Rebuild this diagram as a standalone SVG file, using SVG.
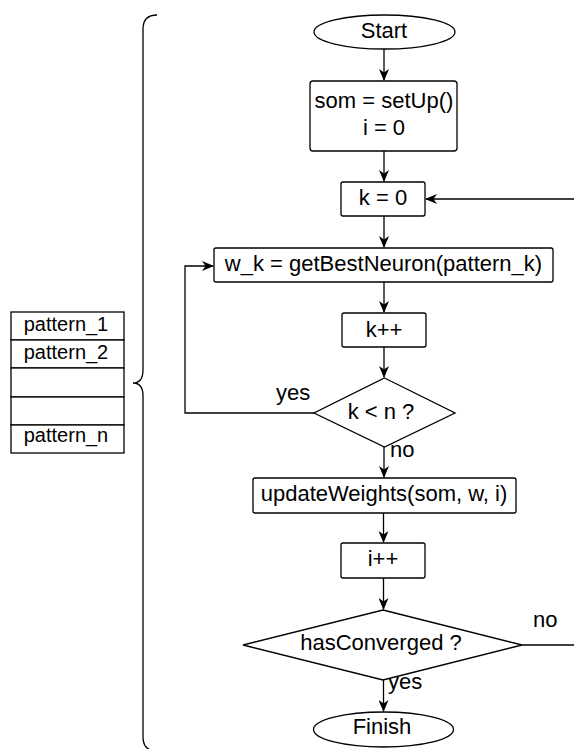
<svg xmlns="http://www.w3.org/2000/svg" width="574" height="749" viewBox="0 0 574 749">
<style>
.s{fill:#fff;stroke:#000;stroke-width:1.3}
.c{fill:none;stroke:#000;stroke-width:1.3}
.t{font-family:"Liberation Sans",Arial,Helvetica,sans-serif;font-size:22px;fill:#000;text-anchor:middle}
.p{font-family:"Liberation Sans",Arial,Helvetica,sans-serif;font-size:20px;fill:#000;text-anchor:middle}
.l{font-family:"Liberation Sans",Arial,Helvetica,sans-serif;font-size:22px;fill:#000}
</style>
<defs>
<marker id="a" viewBox="0 0 12 10" refX="11" refY="5" markerWidth="12" markerHeight="10" markerUnits="userSpaceOnUse" orient="auto">
<path d="M0,0 L12,5 L0,10 L3.5,5 Z" fill="#000"/>
</marker>
</defs>
<rect width="574" height="749" fill="#fff"/>
<g id="connectors">
<line class="c" x1="384" y1="49" x2="384" y2="80" marker-end="url(#a)"/>
<line class="c" x1="384" y1="151" x2="384" y2="181" marker-end="url(#a)"/>
<line class="c" x1="574" y1="199" x2="426" y2="199" marker-end="url(#a)"/>
<line class="c" x1="384" y1="216" x2="384" y2="247" marker-end="url(#a)"/>
<line class="c" x1="384" y1="282" x2="384" y2="312" marker-end="url(#a)"/>
<line class="c" x1="384" y1="347" x2="384" y2="377" marker-end="url(#a)"/>
<path class="c" d="M314,413 H185 V266 H213" marker-end="url(#a)"/>
<line class="c" x1="384" y1="447" x2="384" y2="477" marker-end="url(#a)"/>
<line class="c" x1="383.5" y1="513" x2="383.5" y2="542" marker-end="url(#a)"/>
<line class="c" x1="383.5" y1="578" x2="383.5" y2="609" marker-end="url(#a)"/>
<line class="c" x1="522" y1="645" x2="574" y2="645"/>
<line class="c" x1="383.5" y1="680" x2="383.5" y2="711" marker-end="url(#a)"/>
<text class="l" x="276" y="400">yes</text>
<text class="l" x="390" y="457">no</text>
<text class="l" x="533" y="627">no</text>
<text class="l" x="388" y="689">yes</text>
</g>
<g id="start">
<ellipse class="s" cx="384.5" cy="32" rx="70.5" ry="17"/>
<text class="t" x="384" y="38">Start</text>
</g>
<g id="setup">
<rect class="s" x="310" y="81" width="147" height="70" rx="3"/>
<text class="t" x="384" y="108">som = setUp()</text>
<text class="t" x="384" y="135">i = 0</text>
</g>
<g id="k0">
<rect class="s" x="341" y="182" width="84" height="34" rx="2"/>
<text class="t" x="383" y="205">k = 0</text>
</g>
<g id="best">
<rect class="s" x="214" y="248" width="339" height="34" rx="2"/>
<text class="t" x="383.5" y="271">w_k = getBestNeuron(pattern_k)</text>
</g>
<g id="kpp">
<rect class="s" x="342" y="313" width="84" height="34" rx="2"/>
<text class="t" x="384" y="337">k++</text>
</g>
<g id="kn">
<polygon class="s" points="384.5,378 455,413 384.5,447 314,413"/>
<text class="t" x="381" y="419">k &lt; n ?</text>
</g>
<g id="update">
<rect class="s" x="253" y="478" width="263" height="35" rx="2"/>
<text class="t" x="384" y="501">updateWeights(som, w, i)</text>
</g>
<g id="ipp">
<rect class="s" x="341" y="543" width="84" height="35" rx="2"/>
<text class="t" x="383" y="566">i++</text>
</g>
<g id="conv">
<polygon class="s" points="383,610 522,645 383,680 243,645"/>
<text class="t" x="381" y="650">hasConverged ?</text>
</g>
<g id="finish">
<ellipse class="s" cx="383.5" cy="729.5" rx="70" ry="17.5"/>
<text class="t" x="382" y="734">Finish</text>
</g>
<g id="patterns">
<rect class="s" x="11" y="312" width="113" height="28"/>
<rect class="s" x="11" y="340" width="113" height="28"/>
<rect class="s" x="11" y="368" width="113" height="29"/>
<rect class="s" x="11" y="397" width="113" height="28"/>
<rect class="s" x="11" y="425" width="113" height="28"/>
<text class="p" x="66" y="331">pattern_1</text>
<text class="p" x="66" y="359">pattern_2</text>
<text class="p" x="66" y="442">pattern_n</text>
</g>
<g id="brace">
<path class="c" d="M157,15 Q143,15 143,29 V370 Q143,383 133,383 Q143,383 143,396 V737 Q143,751 157,751"/>
</g>
</svg>
